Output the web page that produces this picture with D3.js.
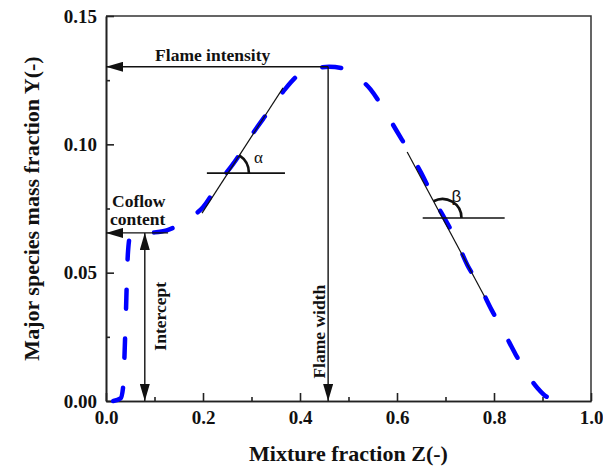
<!DOCTYPE html>
<html>

<head>
    <script src="https://d3js.org/d3.v7.min.js"></script>
    <style>
        body {
            margin: 0;
            background: #fff;
            font-family: "Liberation Serif", "Times New Roman", serif;
        }

        .axis text {
            font-family: "Liberation Serif", serif;
            font-weight: bold;
            font-size: 19px;
            fill: #111;
        }

        .axis path,
        .axis line {
            stroke: #222;
            stroke-width: 1.6px;
        }

        .axis-title {
            font-size: 22px;
            font-weight: bold;
            fill: #111;
        }

        .note {
            font-size: 17.5px;
            font-weight: bold;
            fill: #111;
        }

        .curve {
            fill: none;
            stroke: #0000ff;
            stroke-width: 4.5px;
            stroke-dasharray: 19, 30;
            stroke-linecap: round;
        }

        .arrow {
            stroke: #111;
            stroke-width: 1.4px;
        }
    </style>
</head>

<body>
    <script>
        // curve: mixture fraction Z vs mass fraction Y
        var zValues = [0.015, 0.030, 0.035, 0.040, 0.045, 0.050, 0.060, 0.080, 0.100, 0.125, 0.150, 0.175, 0.200,
            0.235, 0.270, 0.300, 0.330, 0.365, 0.400, 0.430, 0.460, 0.490, 0.520, 0.545, 0.570, 0.600, 0.630,
            0.655, 0.675, 0.700, 0.720, 0.745, 0.770, 0.795, 0.820, 0.845, 0.870, 0.890, 0.910, 0.930, 0.955];
        var yValues = [0, 0.001, 0.005, 0.028, 0.057, 0.0645, 0.0655, 0.0655, 0.0657, 0.0665, 0.0685, 0.0715, 0.0755,
            0.0855, 0.0945, 0.1035, 0.1115, 0.1205, 0.1275, 0.1295, 0.1302, 0.1295, 0.1260, 0.1215, 0.1145, 0.1050, 0.0955,
            0.0870, 0.0790, 0.0705, 0.0635, 0.0530, 0.0450, 0.0355, 0.0270, 0.0180, 0.0101, 0.0050, 0.0015, 0.0005, 0.0002];

        var xTicks = [0, 0.2, 0.4, 0.6, 0.8, 1.0];
        var xMinor = [0.1, 0.3, 0.5, 0.7, 0.9];
        var yTicks = [0, 0.05, 0.10, 0.15];
        var yMinor = [0.025, 0.075, 0.125];

        // annotation values (data units)
        var peakY = 0.1302, peakZ = 0.458;
        var coflowY = 0.0655, coflowEndZ = 0.128, interceptZ = 0.080;
        var alphaTangent = [[0.198, 0.0732], [0.365, 0.1220]];
        var alphaLevel = { y: 0.0888, z0: 0.208, z1: 0.369 };
        var betaTangent = [[0.621, 0.0970], [0.781, 0.0405]];
        var betaLevel = { y: 0.0713, z0: 0.653, z1: 0.822 };

        var margin = { top: 16, right: 12, bottom: 67, left: 106 },
            width = 603 - margin.left - margin.right,
            height = 468 - margin.top - margin.bottom;

        var x = d3.scaleLinear().domain([0, 1]).range([0, width]);
        var y = d3.scaleLinear().domain([0, 0.15]).range([height, 0]);

        var svg = d3.select("body").append("svg")
            .attr("width", 603)
            .attr("height", 468);

        var defs = svg.append("defs");
        defs.append("marker")
            .attr("id", "head")
            .attr("viewBox", "0 0 17 10")
            .attr("refX", 17).attr("refY", 5)
            .attr("markerWidth", 17).attr("markerHeight", 10)
            .attr("markerUnits", "userSpaceOnUse")
            .attr("orient", "auto-start-reverse")
            .append("path")
            .attr("d", "M0,0L17,5L0,10Z")
            .attr("fill", "#111");

        var g = svg.append("g")
            .attr("transform", "translate(" + margin.left + "," + margin.top + ")");

        // frame (top and right)
        g.append("path")
            .attr("d", "M0,0H" + width + "V" + height)
            .attr("fill", "none")
            .attr("stroke", "#333")
            .attr("stroke-width", 1.5);

        // axes with inward ticks
        g.append("g").attr("class", "axis")
            .attr("transform", "translate(0," + height + ")")
            .call(d3.axisBottom(x).tickValues(xMinor).tickSize(-4).tickSizeOuter(0).tickFormat(""));
        g.append("g").attr("class", "axis")
            .attr("transform", "translate(0," + height + ")")
            .call(d3.axisBottom(x).tickValues(xTicks).tickSize(-8).tickSizeOuter(0)
                .tickPadding(10).tickFormat(d3.format(".1f")));

        g.append("g").attr("class", "axis")
            .call(d3.axisLeft(y).tickValues(yMinor).tickSize(-4).tickSizeOuter(0).tickFormat(""));
        g.append("g").attr("class", "axis")
            .call(d3.axisLeft(y).tickValues(yTicks).tickSize(-8).tickSizeOuter(0)
                .tickPadding(9).tickFormat(d3.format(".2f")));

        // axis titles
        svg.append("text")
            .attr("class", "axis-title")
            .attr("x", margin.left + width / 2)
            .attr("y", 461)
            .attr("text-anchor", "middle")
            .text("Mixture fraction Z(-)");

        svg.append("text")
            .attr("class", "axis-title")
            .attr("transform", "translate(39," + (margin.top + height / 2) + ") rotate(-90)")
            .attr("text-anchor", "middle")
            .text("Major species mass fraction Y(-)");

        // dashed curve
        var pts = zValues.map(function(z, i) { return [z, yValues[i]]; });
        g.append("path")
            .datum(pts)
            .attr("class", "curve")
            .attr("d", d3.line()
                .x(function(d) { return x(d[0]); })
                .y(function(d) { return y(d[1]); })
                .curve(d3.curveMonotoneX));

        // arrows
        function arrow(z0, y0, z1, y1, both) {
            var l = g.append("line")
                .attr("class", "arrow")
                .attr("x1", x(z0)).attr("y1", y(y0))
                .attr("x2", x(z1)).attr("y2", y(y1))
                .attr("marker-end", "url(#head)");
            if (both) l.attr("marker-start", "url(#head)");
        }
        arrow(peakZ, peakY, 0, peakY);
        arrow(peakZ, peakY, peakZ, 0);
        arrow(coflowEndZ, coflowY, 0, coflowY);
        arrow(interceptZ, 0, interceptZ, coflowY, true);

        g.append("text").attr("class", "note")
            .attr("x", x(0.22)).attr("y", y(peakY) - 6)
            .attr("text-anchor", "middle")
            .text("Flame intensity");

        g.append("text").attr("class", "note")
            .attr("x", 6).attr("y", y(coflowY) - 26)
            .text("Coflow");
        g.append("text").attr("class", "note")
            .attr("x", 4).attr("y", y(coflowY) - 8)
            .text("content");

        g.append("text").attr("class", "note")
            .attr("transform", "translate(" + (x(interceptZ) + 21) + "," + (y(0.033)) + ") rotate(-90)")
            .attr("text-anchor", "middle")
            .text("Intercept");

        g.append("text").attr("class", "note")
            .attr("transform", "translate(" + (x(peakZ) - 3) + "," + (y(0.027)) + ") rotate(-90)")
            .attr("text-anchor", "middle")
            .text("Flame width");

        // tangent lines with angle marks
        function angleMark(tan, level, label, useUp, labelDx, labelDy, font) {
            var p0 = [x(tan[0][0]), y(tan[0][1])], p1 = [x(tan[1][0]), y(tan[1][1])];
            g.append("line").attr("stroke", "#111").attr("stroke-width", 1.2)
                .attr("x1", p0[0]).attr("y1", p0[1]).attr("x2", p1[0]).attr("y2", p1[1]);
            var ly = y(level.y);
            g.append("line").attr("stroke", "#111").attr("stroke-width", 1.6)
                .attr("x1", x(level.z0)).attr("y1", ly).attr("x2", x(level.z1)).attr("y2", ly);
            // intersection
            var t = (ly - p0[1]) / (p1[1] - p0[1]);
            var cx = p0[0] + t * (p1[0] - p0[0]);
            var up = p0[1] > p1[1] ? [p1[0] - p0[0], p1[1] - p0[1]] : [p0[0] - p1[0], p0[1] - p1[1]];
            var a0 = Math.atan2(up[1], up[0]);
            var r = label === "α" ? 21 : 19;
            var path = d3.path();
            path.moveTo(cx + r * Math.cos(a0), ly + r * Math.sin(a0));
            path.arc(cx, ly, r, a0, 0, false);
            g.append("path").attr("d", path.toString())
                .attr("fill", "none").attr("stroke", "#111").attr("stroke-width", 2.6);
            g.append("text")
                .attr("x", cx + labelDx).attr("y", ly + labelDy)
                .attr("font-family", font)
                .attr("font-size", 17)
                .attr("fill", "#111")
                .text(label);
        }
        angleMark(alphaTangent, alphaLevel, "α", true, 26, -10, "Liberation Serif");
        angleMark(betaTangent, betaLevel, "β", true, 9, -16, "Liberation Sans");
    </script>
</body>

</html>
